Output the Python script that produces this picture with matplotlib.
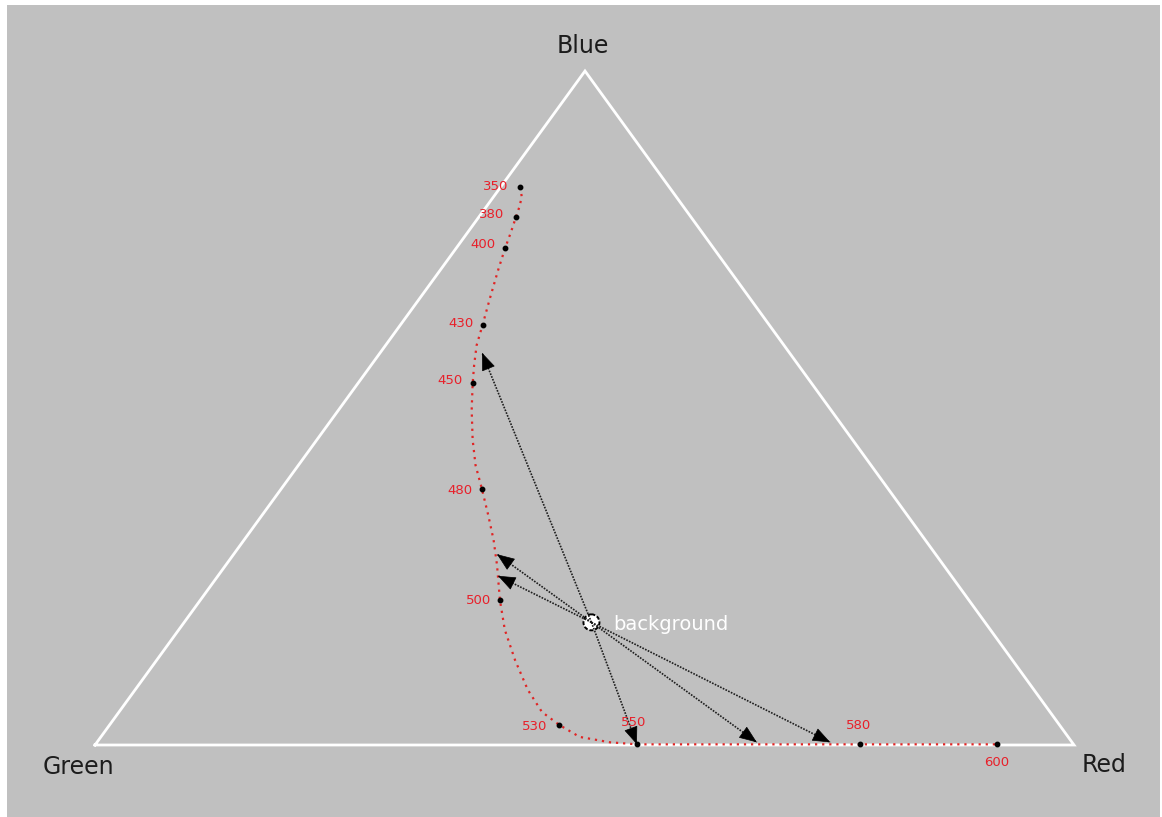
import matplotlib
matplotlib.use('Agg')
import matplotlib.pyplot as plt
from matplotlib.patches import Rectangle, Circle
import numpy as np

# ---------------- data (ternary proportions: blue, red; green = 1 - blue - red) ----
corner_labels = ['Green', 'Red', 'Blue']

# spectral locus path
locus_blue = [0.828, 0.813, 0.798, 0.783, 0.761, 0.737, 0.705, 0.665, 0.623, 0.593,
              0.564, 0.537, 0.497, 0.453, 0.415, 0.380, 0.341, 0.304, 0.267, 0.215,
              0.171, 0.126, 0.082, 0.049, 0.030, 0.012, 0.004, 0.001, 0.001, 0.001, 0.001]
locus_red = [0.020, 0.029, 0.034, 0.038, 0.044, 0.050, 0.059, 0.071, 0.084, 0.093,
             0.105, 0.117, 0.136, 0.159, 0.181, 0.205, 0.231, 0.255, 0.277, 0.306,
             0.333, 0.366, 0.401, 0.432, 0.459, 0.489, 0.524, 0.553, 0.668, 0.781, 0.921]

# labelled wavelengths (nm)
wavelengths = [350, 380, 400, 430, 450, 480, 500, 530, 550, 580, 600]
wl_blue = [0.828, 0.783, 0.737, 0.623, 0.537, 0.380, 0.215, 0.030, 0.001, 0.001, 0.001]
wl_red = [0.020, 0.038, 0.050, 0.084, 0.117, 0.205, 0.306, 0.459, 0.553, 0.781, 0.921]

# background point and arrow targets
background_blue, background_red = 0.182, 0.416
arrow_blue = [0.582, 0.283, 0.251, 0.001, 0.004, 0.004]
arrow_red = [0.104, 0.269, 0.286, 0.553, 0.674, 0.749]

# ---------------- layout / style ----------------
W, H = 1162, 817
V_GREEN = (95.0, 745.0)
V_RED = (1074.0, 745.0)
V_BLUE = (585.0, 71.0)

# label placement (offset in pixels, alignment) for each wavelength
label_place = {
    350: (-12, 0, 'right', 'center'),
    380: (-12, -3, 'right', 'center'),
    400: (-10, -4, 'right', 'center'),
    430: (-9, -2, 'right', 'center'),
    450: (-10, -3, 'right', 'center'),
    480: (-9, 2, 'right', 'center'),
    500: (-9, 0, 'right', 'center'),
    530: (-12, 2, 'right', 'center'),
    550: (-3, -22, 'center', 'center'),
    580: (-2, -19, 'center', 'center'),
    600: (0, 18, 'center', 'center'),
}


def tern(blue, red):
    blue = np.asarray(blue, dtype=float)
    red = np.asarray(red, dtype=float)
    green = 1.0 - blue - red
    x = green * V_GREEN[0] + red * V_RED[0] + blue * V_BLUE[0]
    y = green * V_GREEN[1] + red * V_RED[1] + blue * V_BLUE[1]
    return x, y


fig = plt.figure(figsize=(W / 100, H / 100), dpi=100, facecolor='white')
ax = fig.add_axes([0, 0, 1, 1])
ax.set_xlim(0, W)
ax.set_ylim(H, 0)
ax.axis('off')

ax.add_patch(Rectangle((7, 5), 1153, 812, facecolor='#c0c0c0', edgecolor='none', zorder=0))

# triangle
tx = [V_GREEN[0], V_RED[0], V_BLUE[0], V_GREEN[0]]
ty = [V_GREEN[1], V_RED[1], V_BLUE[1], V_GREEN[1]]
ax.plot(tx, ty, color='white', lw=2.0, zorder=1, solid_joinstyle='miter')

txt_kw = dict(fontsize=17, color='#1c1c1c', family='DejaVu Sans')
ax.text(557, 53, corner_labels[2], ha='left', va='baseline', **txt_kw)
ax.text(43, 774, corner_labels[0], ha='left', va='baseline', **txt_kw)
ax.text(1082, 772, corner_labels[1], ha='left', va='baseline', **txt_kw)

# spectral locus
lx, ly = tern(locus_blue, locus_red)
ax.plot(lx, ly, color='#e02525', lw=1.6, ls=(0, (1, 2.2)), zorder=3)

wx, wy = tern(wl_blue, wl_red)
ax.plot(wx, wy, 'o', ms=3.2, color='black', zorder=6)
for wl, x, y in zip(wavelengths, wx, wy):
    dx, dy, ha, va = label_place[wl]
    ax.annotate(str(wl), (x, y), xytext=(dx, -dy), textcoords='offset pixels',
                ha=ha, va=va, fontsize=9.5, color='#e8202a', zorder=7)

# background point and arrows
bx, by = tern(background_blue, background_red)
ax.add_patch(Circle((bx, by), 8, facecolor='white', edgecolor='black', lw=1.4,
                    ls=(0, (2, 1)), zorder=4))
ax_, ay_ = tern(arrow_blue, arrow_red)
for x, y in zip(ax_, ay_):
    ax.plot([bx, x], [by, y], color='#1e1e1e', lw=1.2, ls=(0, (1, 0.8)), zorder=5)
    d = np.hypot(x - bx, y - by)
    ux, uy = (x - bx) / d, (y - by) / d
    ax.annotate('', xy=(x, y), xytext=(x - 15 * ux, y - 15 * uy),
                arrowprops=dict(arrowstyle='-|>,head_length=1.15,head_width=0.45',
                                color='black', lw=0.5, shrinkA=0, shrinkB=0,
                                mutation_scale=10), zorder=6)

ax.text(bx + 22, by + 8, 'background', ha='left', va='baseline', fontsize=14,
        color='white', zorder=7)

fig.savefig('out.png', dpi=100, facecolor='white')
